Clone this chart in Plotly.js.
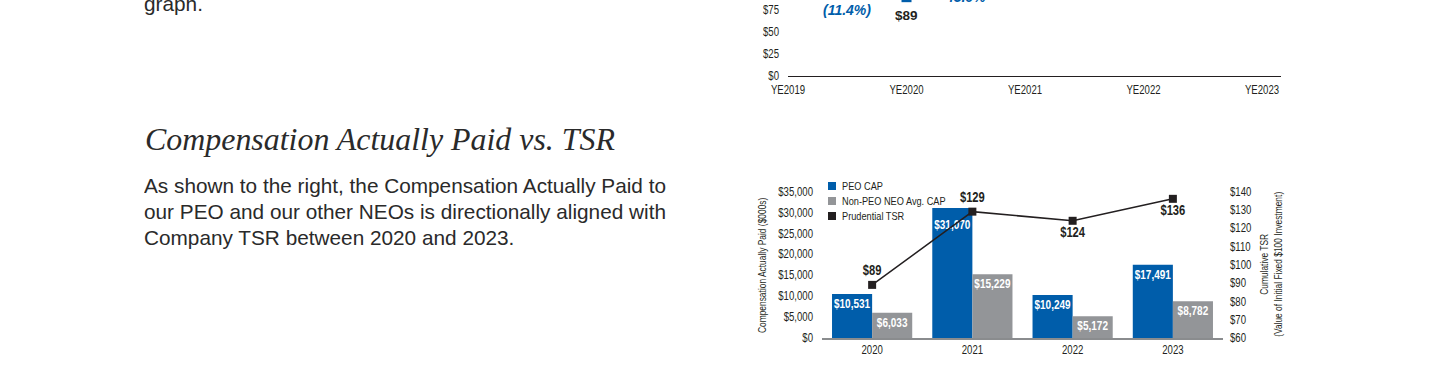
<!DOCTYPE html>
<html><head><meta charset="utf-8">
<script src="https://cdn.plot.ly/plotly-3.0.1.min.js"></script>
<style>
html,body{margin:0;padding:0;background:#fff;overflow:hidden;width:1440px;height:375px;position:relative}
#chart{position:absolute;left:0;top:-60px;width:1440px;height:435px}
.t{position:absolute;left:144px;color:#2a2a2a;white-space:nowrap;z-index:2;transform-origin:0 0}
.body{font-family:"Liberation Sans",Arimo,sans-serif;font-size:21px;line-height:26px}
.head{font-family:"Liberation Serif",serif;font-style:italic;font-size:32px;line-height:36px;left:145px}
</style></head><body>
<div id="chart"></div>
<div class="t body" id="prev" style="top:-9px">graph.</div>
<div class="t head" id="head" style="top:121px">Compensation Actually Paid vs. TSR</div>
<div class="t body" id="para" style="top:173px"><span id="l1">As shown to the right, the Compensation Actually Paid to</span><br>our PEO and our other NEOs is directionally aligned with<br>Company TSR between 2020 and 2023.</div>
<script>
// ---- data ----
const years = ['2020', '2021', '2022', '2023'];
const peoCap = [10531, 31070, 10249, 17491];
const neoCap = [6033, 15229, 5172, 8782];
const tsr = [89, 129, 124, 136];
const tsrLabelPos = ['top center', 'top center', 'bottom center', 'bottom center'];
const seriesNames = ['PEO CAP', 'Non-PEO NEO Avg. CAP', 'Prudential TSR'];
const leftTitle = 'Compensation Actually Paid ($000s)';
const rightTitle = 'Cumulative TSR<br>(Value of Initial Fixed $100 Investment)';
// upper (cropped) chart
const topYears = ['YE2019', 'YE2020', 'YE2021', 'YE2022', 'YE2023'];
const topTsr = [100, 89, 129, 124, 136];
const topChange = ['(11.4%)', '45.9%'];

// ---- styling ----
const FONT = 'Liberation Sans, condensedx, sans-serif';   // narrowed after drawing
const FONTW = 'Liberation Sans, Arimo, sans-serif';        // kept at natural width
const INK = '#231f20';
const BLUE = '#005DAA';
const GREY = '#939598';
const SQUEEZE = 0.8;
const PEO_LABEL_NUDGE = [0, 7, 0, 0];   // px downward shift of PEO bar labels
const SHIFT = 60, H = 375 + SHIFT, W = 1440;
const px = x => x / W;
const py = y => 1 - (y + SHIFT) / H;

const barText = {family: FONT, size: 12.5, color: '#ffffff', weight: 'bold'};
const traces = [
  {type: 'bar', x: years, y: peoCap, name: seriesNames[0], marker: {color: BLUE},
   texttemplate: '$%{y:,}', textposition: 'inside', insidetextanchor: 'end', textangle: 0,
   constraintext: 'none', cliponaxis: false, textfont: barText, hoverinfo: 'skip'},
  {type: 'bar', x: years, y: neoCap, name: seriesNames[1], marker: {color: GREY},
   texttemplate: '$%{y:,}', textposition: 'inside', insidetextanchor: 'end', textangle: 0,
   constraintext: 'none', cliponaxis: false, textfont: barText, hoverinfo: 'skip'},
  {type: 'scatter', x: years, y: tsr, yaxis: 'y2', name: seriesNames[2],
   mode: 'lines+markers+text', line: {color: INK, width: 1.5},
   marker: {symbol: 'square', size: 8, color: INK},
   text: tsr.map(v => '$' + v), textposition: tsrLabelPos, cliponaxis: false,
   textfont: {family: FONT, size: 14, color: INK, weight: 'bold'}, hoverinfo: 'skip'},
  {type: 'scatter', x: topYears.map((_, i) => i), y: topTsr, xaxis: 'x3', yaxis: 'y3',
   mode: 'lines+markers', line: {color: BLUE, width: 2},
   marker: {symbol: 'square', size: 10, color: BLUE}, cliponaxis: false, hoverinfo: 'skip'}
];

const annotations = [
  {xref: 'paper', yref: 'paper', x: px(762), y: py(266), xanchor: 'center', yanchor: 'middle',
   text: leftTitle, textangle: -90, showarrow: false, font: {family: FONT, size: 10.5, color: INK}},
  {xref: 'paper', yref: 'paper', x: px(1271), y: py(265), xanchor: 'center', yanchor: 'middle',
   text: rightTitle, textangle: -90, showarrow: false, font: {family: FONT, size: 10.5, color: INK}},
  {xref: 'x3', yref: 'y3', x: 1, y: topTsr[1], yshift: -18, text: '$' + topTsr[1],
   showarrow: false, font: {family: FONTW, size: 13.5, color: INK, weight: 'bold'}}
];
topChange.forEach((t, i) => {
  annotations.push({xref: 'x3', yref: 'y3', x: i + 0.5, y: (topTsr[i] + topTsr[i + 1]) / 2,
    yshift: -17.5, text: t, showarrow: false,
    font: {family: FONTW, size: 14, color: BLUE, weight: 'bold', style: 'italic'}});
});

// legend drawn as squares + labels
const legendColors = [BLUE, GREY, INK];
const legendY = [186, 201, 216];
const shapes = [];
seriesNames.forEach((n, i) => {
  shapes.push({type: 'rect', xref: 'paper', yref: 'paper', x0: px(828), x1: px(836),
    y0: py(legendY[i] + 4), y1: py(legendY[i] - 4), fillcolor: legendColors[i], line: {width: 0}});
  annotations.push({xref: 'paper', yref: 'paper', x: px(840), y: py(legendY[i]), xanchor: 'left',
    yanchor: 'middle', align: 'left', text: n, showarrow: false,
    font: {family: FONT, size: 11.5, color: INK}});
});

const tickfont = {family: FONT, size: 12, color: INK};
const layout = {
  width: W, height: H, margin: {l: 0, r: 0, t: 0, b: 0, pad: 0},
  paper_bgcolor: '#ffffff', plot_bgcolor: 'rgba(0,0,0,0)', showlegend: false,
  barmode: 'group', bargap: 0.2, bargroupgap: 0,
  font: {family: FONT, color: INK},
  xaxis: {domain: [px(822), px(1223)], anchor: 'y', type: 'category', range: [-0.5, 3.5],
    showline: true, linecolor: '#8a8c8e', linewidth: 1.5, ticks: '', showgrid: false,
    zeroline: false, tickfont: tickfont, ticklabelstandoff: 0},
  yaxis: {domain: [py(338), py(191.5)], anchor: 'x', range: [0, 35000], dtick: 5000,
    tickprefix: '$', tickformat: ',', showgrid: false, zeroline: false, showline: false,
    ticks: '', tickfont: tickfont, ticklabelstandoff: 8},
  yaxis2: {overlaying: 'y', side: 'right', anchor: 'x', range: [60, 140], dtick: 10,
    tickprefix: '$', showgrid: false, zeroline: false, showline: false, ticks: '',
    tickfont: tickfont, ticklabelstandoff: 6},
  xaxis3: {domain: [px(788), px(1281)], anchor: 'y3', range: [0, 4.16],
    tickvals: topYears.map((_, i) => i), ticktext: topYears,
    showline: true, linecolor: INK, linewidth: 1.5, ticks: '', showgrid: false,
    zeroline: false, tickfont: tickfont, ticklabelstandoff: 3},
  yaxis3: {domain: [py(75.5), 1], anchor: 'x3', range: [0, 135.5 / 0.88], dtick: 25,
    tickprefix: '$', showgrid: false, zeroline: false, showline: false, ticks: '',
    tickfont: tickfont, ticklabelstandoff: 8},
  annotations: annotations, shapes: shapes
};

// narrow the page text to the column widths
function fit(el, target) {
  const w = el.getBoundingClientRect().width;
  if (w > 0) el.style.transform = 'scaleX(' + (target / w) + ')';
}
fit(document.getElementById('head'), 470);
const para = document.getElementById('para');
const s1 = 522 / document.getElementById('l1').getBoundingClientRect().width;
para.style.transform = 'scaleX(' + s1 + ')';
document.getElementById('prev').style.transform = 'scaleX(' + s1 + ')';

Plotly.newPlot('chart', traces, layout, {staticPlot: true, displayModeBar: false}).then(gd => {
  // condensed look: narrow the glyphs of the chart texts
  gd.querySelectorAll('svg text').forEach(el => {
    if (!(el.style.fontFamily || '').includes('condensedx')) return;
    const lines = el.querySelectorAll('tspan.line');
    const targets = lines.length ? Array.from(lines) : [el];
    targets.forEach(t => {
      const L = t.getComputedTextLength();
      if (L > 0) {
        t.setAttribute('textLength', (L * SQUEEZE).toFixed(2));
        t.setAttribute('lengthAdjust', 'spacingAndGlyphs');
      }
    });
  });
  // nudge PEO bar labels
  const peoTrace = gd.querySelectorAll('.barlayer .trace')[0];
  if (peoTrace) {
    peoTrace.querySelectorAll('.point').forEach((p, i) => {
      const tx = p.querySelector('text');
      if (tx && PEO_LABEL_NUDGE[i]) {
        tx.setAttribute('transform', 'translate(0,' + PEO_LABEL_NUDGE[i] + ') ' + (tx.getAttribute('transform') || ''));
      }
    });
  }
});
</script>
</body></html>
